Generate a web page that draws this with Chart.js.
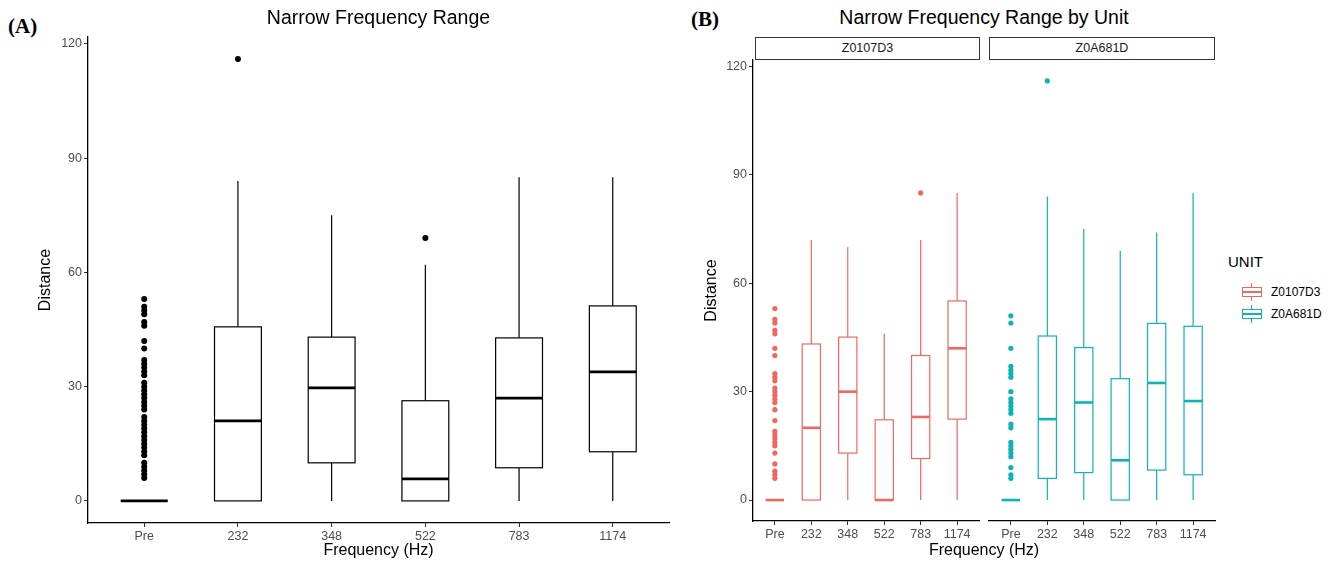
<!DOCTYPE html>
<html>
<head>
<meta charset="utf-8">
<title>Narrow Frequency Range</title>
<script src="https://cdn.jsdelivr.net/npm/chart.js@4.4.0/dist/chart.umd.min.js"></script>
<style>
    body { margin: 0; background: #fff; font-family: "Liberation Sans", Arial, sans-serif; color: #000; }
    #page { position: relative; width: 1332px; height: 563px; overflow: hidden; }
    .abs { position: absolute; }
    .tag { font-family: "Liberation Serif", "Times New Roman", serif; font-weight: bold; font-size: 21px; }
    .strip { height: 23px; border: 1.3px solid #333; box-sizing: border-box; font-size: 12.5px; color: #1a1a1a;
             text-align: center; line-height: 21px; background: #fff; }
    .legendRow { left: 1241px; height: 22px; font-size: 12px; color: #000; display: flex; align-items: center; }
    .key { position: relative; width: 22px; height: 18px; margin-right: 8px; }
    .key .wh { position: absolute; left: 10px; top: 0; width: 1.2px; height: 18px; }
    .key .bx { position: absolute; left: 1px; top: 4px; width: 20px; height: 10px; box-sizing: border-box;
               border: 1.2px solid; background: #fff; }
    .key .md { position: absolute; left: 1px; top: 8px; width: 20px; height: 2px; }
</style>
</head>
<body>
<div id="page">
    <div class="abs tag" style="left:8px; top:14px;">(A)</div>
    <canvas id="chartA" class="abs" style="left:0; top:0;" width="680" height="563"></canvas>

    <div class="abs tag" style="left:691px; top:7px;">(B)</div>
    <div class="abs" style="left:753px; top:6px; width:462px; text-align:center; font-size:19.5px; line-height:23px; color:#000;">Narrow Frequency Range by Unit</div>
    <div class="abs strip" style="left:755px; top:37px; width:225px;">Z0107D3</div>
    <div class="abs strip" style="left:989px; top:37px; width:226px;">Z0A681D</div>
    <canvas id="chartB1" class="abs" style="left:680px; top:0;" width="302" height="563"></canvas>
    <canvas id="chartB2" class="abs" style="left:982px; top:0;" width="240" height="563"></canvas>
    <div class="abs" style="left:753px; top:540px; width:462px; text-align:center; font-size:16px; line-height:19px; color:#000;">Frequency (Hz)</div>

    <div class="abs" style="left:1228px; top:253px; font-size:15px; line-height:18px; color:#000;">UNIT</div>
    <div id="legend"></div>
</div>

<script>
// categories and axis
const freqLabels = ['Pre', '232', '348', '522', '783', '1174'];
const yTicks = [0, 30, 60, 90, 120];
const yMin = -5.8;   // ggplot 5% expansion of 0..116
const yMax = 121.8;
const xPad = 0.6;
const boxHalf = 0.25;

// (A) all units pooled
const allLow    = [0, 0, 0, 0, 0, 0];
const allQ1     = [0, 0, 10, 0, 8.7, 12.9];
const allMedian = [0, 21, 29.7, 5.8, 27, 33.9];
const allQ3     = [0, 45.7, 43, 26.3, 42.8, 51.2];
const allHigh   = [0, 84, 75, 62, 85, 85];
const allPreOut = [53, 51, 50, 49, 47, 46, 42, 40, 37, 36, 35, 34, 33, 31, 30, 29, 28, 27, 26, 25,
                   24, 22, 21, 20, 19, 18, 17, 16, 15, 14, 13, 12, 10, 9, 8, 7, 6];
const all232Out = [116];
const all522Out = [69];

// (B) units
const unitNames  = ['Z0107D3', 'Z0A681D'];
const unitColors = ['#ef6760', '#0fb2b6'];

// unit Z0107D3
const redLow    = [0, 0, 0, 0, 0, 0];
const redQ1     = [0, 0, 13, 0, 11.5, 22.4];
const redMedian = [0, 20, 30, 0, 23, 42];
const redQ3     = [0, 43.2, 45.1, 22.2, 40, 55.1];
const redHigh   = [0, 72, 70, 46, 72, 85];
const redPreOut = [53, 50, 49, 47, 46, 42, 40, 35, 34, 33, 31, 30, 29, 28, 27, 25, 22, 19, 18, 17,
                   16, 15, 13, 10, 8, 7, 6];
const red783Out = [85];

// unit Z0A681D
const cyanLow    = [0, 0, 0, 0, 0, 0];
const cyanQ1     = [0, 6, 7.6, 0, 8.3, 7];
const cyanMedian = [0, 22.4, 27, 11, 32.4, 27.4];
const cyanQ3     = [0, 45.4, 42.2, 33.6, 48.9, 48.1];
const cyanHigh   = [0, 84, 75, 69, 74, 85];
const cyanPreOut = [51, 49, 42, 37, 36, 35, 34, 30, 28, 27, 26, 25, 24, 21, 20, 16, 15, 14, 13, 12, 9, 7, 6];
const cyan232Out = [116];

function toPoints(groups) {
    const pts = [];
    groups.forEach(([cat, vals]) => {
        vals.forEach(v => pts.push({ x: cat, y: v }));
    });
    return pts;
}

// draws the boxes, whiskers and medians with the chart's own scales
function boxplotPlugin(stats, color, lineWidth, medianWidth) {
    return {
        id: 'boxplot',
        beforeDatasetsDraw(chart) {
            const { ctx, scales: { x, y } } = chart;
            ctx.save();
            ctx.strokeStyle = color;
            for (let i = 0; i < stats.median.length; i++) {
                const xc = x.getPixelForValue(i);
                const xl = x.getPixelForValue(i - boxHalf);
                const xr = x.getPixelForValue(i + boxHalf);
                const yLow = y.getPixelForValue(stats.low[i]);
                const yQ1 = y.getPixelForValue(stats.q1[i]);
                const yMed = y.getPixelForValue(stats.median[i]);
                const yQ3 = y.getPixelForValue(stats.q3[i]);
                const yHigh = y.getPixelForValue(stats.high[i]);

                ctx.lineWidth = lineWidth;
                ctx.beginPath();
                ctx.moveTo(xc, yQ3); ctx.lineTo(xc, yHigh);
                ctx.moveTo(xc, yQ1); ctx.lineTo(xc, yLow);
                ctx.stroke();

                ctx.fillStyle = '#fff';
                ctx.fillRect(xl, yQ3, xr - xl, yQ1 - yQ3);
                ctx.strokeRect(xl, yQ3, xr - xl, yQ1 - yQ3);

                ctx.lineWidth = medianWidth;
                ctx.beginPath();
                ctx.moveTo(xl, yMed); ctx.lineTo(xr, yMed);
                ctx.stroke();
            }
            ctx.restore();
        }
    };
}

function makeScales(cfg) {
    return {
        x: {
            type: 'linear',
            min: -xPad,
            max: freqLabels.length - 1 + xPad,
            afterBuildTicks: s => { s.ticks = freqLabels.map((c, i) => ({ value: i })); },
            afterFit: s => { s.height = cfg.xHeight; },
            ticks: {
                autoSkip: false, maxRotation: 0, padding: 2,
                color: '#4d4d4d', font: { family: 'Liberation Sans', size: 12.5 },
                callback: v => freqLabels[v]
            },
            grid: { drawOnChartArea: false, drawTicks: true, tickLength: 4, color: '#333' },
            border: { display: true, color: '#000', width: 1.3 },
            title: {
                display: !!cfg.xTitle, text: cfg.xTitle || '', color: '#000',
                font: { family: 'Liberation Sans', size: 16 }, padding: { top: 0, bottom: 3 }
            }
        },
        y: {
            display: cfg.showY,
            min: yMin,
            max: yMax,
            afterBuildTicks: s => { s.ticks = yTicks.map(v => ({ value: v })); },
            afterFit: s => { s.width = cfg.yWidth; },
            ticks: { padding: 2, color: '#4d4d4d', font: { family: 'Liberation Sans', size: 12.5 } },
            grid: { drawOnChartArea: false, drawTicks: true, tickLength: 4, color: '#333' },
            border: { display: true, color: '#000', width: 1.3 },
            title: {
                display: true, text: 'Distance', color: '#000',
                font: { family: 'Liberation Sans', size: 16 }, padding: { top: cfg.yTitlePad, bottom: 0 }
            }
        }
    };
}

function makeChart(id, points, stats, color, cfg) {
    const ctx = document.getElementById(id).getContext('2d');
    return new Chart(ctx, {
        type: 'scatter',
        data: {
            datasets: [{
                data: points,
                backgroundColor: color,
                borderWidth: 0,
                pointRadius: cfg.pointRadius,
                pointHoverRadius: cfg.pointRadius
            }]
        },
        options: {
            responsive: false,
            animation: false,
            layout: { padding: cfg.padding },
            plugins: {
                legend: { display: false },
                tooltip: { enabled: false },
                title: {
                    display: !!cfg.title, text: cfg.title || '', fullSize: false, color: '#000',
                    font: { family: 'Liberation Sans', size: 19.5, weight: 'normal' },
                    padding: { top: 7, bottom: 6.6 }
                }
            },
            scales: makeScales(cfg)
        },
        plugins: [boxplotPlugin(stats, color, cfg.lineWidth, cfg.medianWidth)]
    });
}

makeChart('chartA',
    toPoints([[0, allPreOut], [1, all232Out], [3, all522Out]]),
    { low: allLow, q1: allQ1, median: allMedian, q3: allQ3, high: allHigh },
    '#000',
    {
        title: 'Narrow Frequency Range', xTitle: 'Frequency (Hz)', showY: true,
        xHeight: 40, yWidth: 88, yTitlePad: 36.4, padding: { left: 0, right: 11, top: 0, bottom: 0 },
        pointRadius: 3, lineWidth: 1.2, medianWidth: 2.8
    });

makeChart('chartB1',
    toPoints([[0, redPreOut], [4, red783Out]]),
    { low: redLow, q1: redQ1, median: redMedian, q3: redQ3, high: redHigh },
    unitColors[0],
    {
        showY: true, xHeight: 42, yWidth: 73, yTitlePad: 22.4,
        padding: { left: 0, right: 3, top: 60, bottom: 0 },
        pointRadius: 2.6, lineWidth: 1.2, medianWidth: 2.6
    });

makeChart('chartB2',
    toPoints([[0, cyanPreOut], [1, cyan232Out]]),
    { low: cyanLow, q1: cyanQ1, median: cyanMedian, q3: cyanQ3, high: cyanHigh },
    unitColors[1],
    {
        showY: false, xHeight: 42, yWidth: 0, yTitlePad: 0,
        padding: { left: 7, right: 7, top: 60, bottom: 0 },
        pointRadius: 2.6, lineWidth: 1.2, medianWidth: 2.6
    });

// legend (boxplot key glyphs)
const legend = document.getElementById('legend');
unitNames.forEach((name, i) => {
    const row = document.createElement('div');
    row.className = 'abs legendRow';
    row.style.top = (281 + i * 22) + 'px';
    const c = unitColors[i];
    row.innerHTML =
        `<div class="key"><div class="wh" style="background:${c}"></div>` +
        `<div class="bx" style="border-color:${c}"></div>` +
        `<div class="md" style="background:${c}"></div></div><span>${name}</span>`;
    legend.appendChild(row);
});
</script>
</body>
</html>
